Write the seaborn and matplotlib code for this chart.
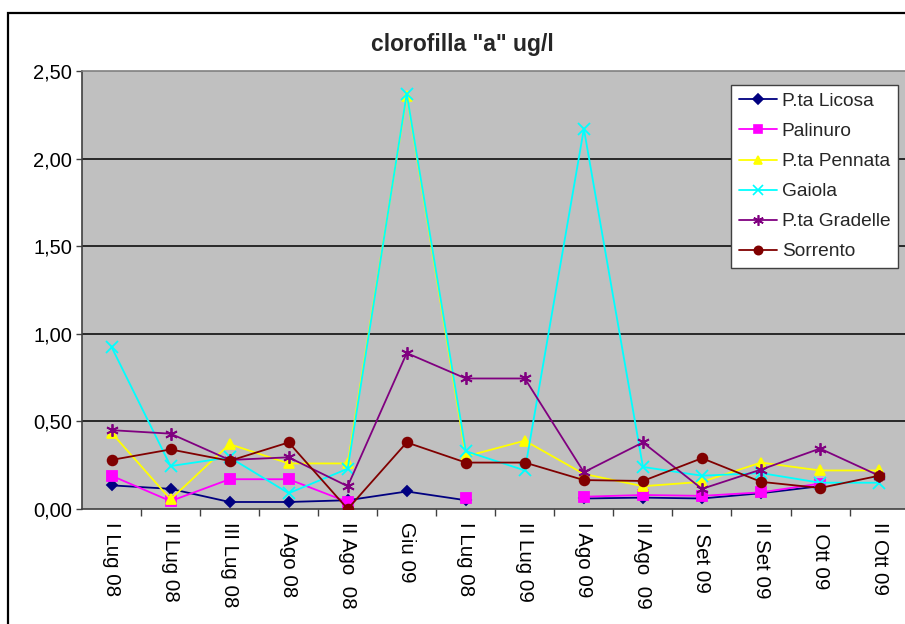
"""
clorofilla "a" ug/l - confronto stazioni
"""

import matplotlib
matplotlib.use("Agg")
import matplotlib.pyplot as plt
from matplotlib.lines import Line2D
from matplotlib.patches import Rectangle
from matplotlib.ticker import FuncFormatter, FixedLocator
import numpy as np
import pandas as pd
import seaborn as sns

nan = np.nan

# categorie (campagne)
campagne = ['I Lug 08', 'II Lug 08', 'III Lug 08', 'I Ago 08', 'II Ago  08', 'Giu 09',
            'I Lug 08', 'II Lug 09', 'I Ago 09', 'II Ago  09', 'I Set 09', 'II Set 09',
            'I Ott 09', 'II Ott 09']

# valori per stazione (nan = dato mancante)
licosa = [0.135, 0.115, 0.04, 0.04, 0.05, 0.10, 0.05, nan, 0.06, 0.065, 0.06, 0.09, 0.13, nan]
palinuro = [0.19, 0.045, 0.17, 0.17, 0.04, nan, 0.06, nan, 0.07, 0.08, 0.075, 0.095, 0.145, nan]
pennata = [0.435, 0.055, 0.37, 0.26, 0.26, 2.36, 0.30, 0.39, 0.20, 0.13, 0.155, 0.265, 0.22, 0.22]
gaiola = [0.925, 0.245, 0.295, 0.09, 0.23, 2.37, 0.33, 0.22, 2.17, 0.24, 0.19, 0.205, 0.15, 0.15]
gradelle = [0.45, 0.43, 0.28, 0.295, 0.13, 0.89, 0.745, 0.745, 0.21, 0.38, 0.115, 0.225, 0.345, 0.19]
sorrento = [0.28, 0.34, 0.275, 0.38, 0.0, 0.38, 0.265, 0.265, 0.165, 0.16, 0.29, 0.155, 0.12, 0.19]

stazioni = ['P.ta Licosa', 'Palinuro', 'P.ta Pennata', 'Gaiola', 'P.ta Gradelle', 'Sorrento']
valori = [licosa, palinuro, pennata, gaiola, gradelle, sorrento]

# stile serie
colori = ['#000080', '#FF00FF', '#FFFF00', '#00FFFF', '#800080', '#800000']
marker = ['D', 's', '^', 'x', (6, 2, 0), 'o']
msize = [5.5, 6.5, 7.5, 8, 9, 7]

sns.set_theme(style='white')
plt.rcParams['font.family'] = ['Liberation Sans', 'DejaVu Sans']

fig = plt.figure(figsize=(9.05, 6.24), dpi=100)
ax = fig.add_axes([82 / 905, 115 / 624, 1 - 82 / 905 + 0.004, (509 - 71) / 624])
ax.set_facecolor('#C0C0C0')

handles = []
for nome, y, c, m, ms in zip(stazioni, valori, colori, marker, msize):
    df = pd.DataFrame({'x': np.arange(len(campagne)), 'y': y})
    # segmenti continui (interrompe la linea dove manca il dato)
    df['seg'] = df['y'].isna().cumsum()
    df = df.dropna()
    sns.lineplot(data=df, x='x', y='y', units='seg', estimator=None, ax=ax,
                 color=c, marker=m, markersize=ms, markeredgecolor=c,
                 markeredgewidth=1.3, linewidth=1.3, legend=False, zorder=3)
    handles.append(Line2D([], [], color=c, marker=m, markersize=ms * 0.85,
                          markeredgecolor=c, markeredgewidth=1.2, linewidth=1.3, label=nome))

# assi
ax.set_xlim(-0.5, 13.5)
ax.set_ylim(0, 2.5)
ax.set_xlabel('')
ax.set_ylabel('')
ax.set_yticks(np.arange(0, 2.51, 0.5))
ax.yaxis.set_major_formatter(FuncFormatter(lambda v, p: f'{v:.2f}'.replace('.', ',')))
for yv in [0.5, 1.0, 1.5, 2.0]:
    ax.axhline(yv, color='black', linewidth=1.1, zorder=1)

ax.set_xticks(np.arange(len(campagne)))
ax.set_xticklabels(campagne, rotation=270, ha='center', va='top')
ax.xaxis.set_minor_locator(FixedLocator(np.arange(0.5, 13.0, 1.0)))
ax.tick_params(axis='x', which='major', length=0, pad=9, labelsize=14.8, colors='black')
ax.tick_params(axis='x', which='minor', length=5, width=1, color='#404040', direction='out', bottom=True)
ax.tick_params(axis='y', which='major', length=4, width=1, color='#404040', direction='out',
               left=True, labelsize=14.5, pad=3, labelcolor='black')

for s in ['left', 'bottom']:
    ax.spines[s].set_color('#404040')
    ax.spines[s].set_linewidth(1.2)
ax.spines['top'].set_color('#808080')
ax.spines['top'].set_linewidth(1.2)
ax.spines['right'].set_visible(False)

# legenda
leg = ax.legend(handles=handles, loc='upper left', bbox_to_anchor=((728 - 82) / 823, 1 - (85 - 71) / 438),
                frameon=True, fontsize=13.8, handlelength=2.0, handletextpad=0.25,
                borderpad=0.4, labelspacing=0.66, fancybox=False, borderaxespad=0)
leg.get_frame().set_edgecolor('#404040')
leg.get_frame().set_linewidth(1.0)
leg.get_frame().set_facecolor('white')
leg.get_frame().set_alpha(1)

# titolo
fig.text(462 / 905, 1 - 45 / 624, 'clorofilla "a" ug/l', ha='center', va='center',
         fontsize=16.5, fontweight='bold')

# cornice del grafico
fig.patches.append(Rectangle((8 / 905, -0.1), 1.2, 1 - 13 / 624 + 0.1, transform=fig.transFigure,
                             fill=False, edgecolor='black', linewidth=1.6))

fig.savefig('out.png', dpi=100)
plt.close(fig)
